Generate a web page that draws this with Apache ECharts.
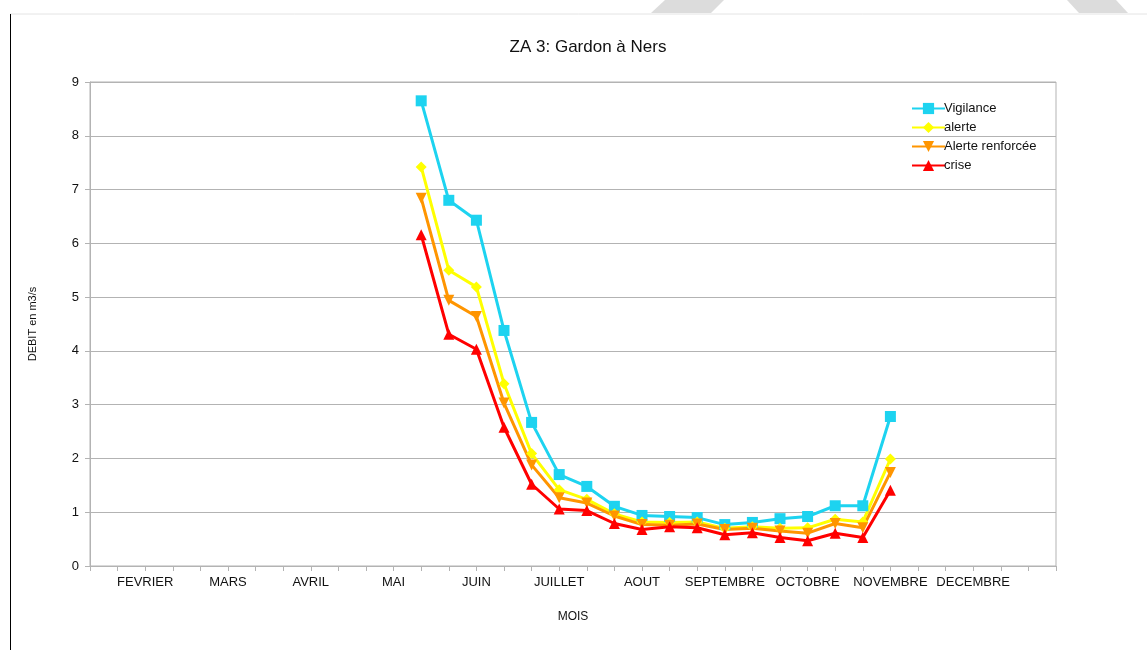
<!DOCTYPE html>
<html>
<head>
<meta charset="utf-8">
<script src="https://cdn.jsdelivr.net/npm/echarts@6/dist/echarts.min.js"></script>
<style>
  html, body { margin: 0; padding: 0; background: #fff; }
  #chart { width: 1147px; height: 650px; }
</style>
</head>
<body>
<div id="chart"></div>
<script>
// mois affichés (une étiquette au milieu de chaque mois, 3 décades par mois)
var MONTHS = ['FEVRIER', 'MARS', 'AVRIL', 'MAI', 'JUIN', 'JUILLET', 'AOUT',
  'SEPTEMBRE', 'OCTOBRE', 'NOVEMBRE', 'DECEMBRE'];
// première décade avec des données (fin mai)
var FIRST_INDEX = 12;

var vigilance = [8.65, 6.80, 6.43, 4.38, 2.67, 1.70, 1.48, 1.11, 0.94, 0.92, 0.90, 0.77, 0.81, 0.88, 0.92, 1.12, 1.12, 2.78];
var alerte = [7.42, 5.50, 5.19, 3.39, 2.09, 1.42, 1.24, 0.97, 0.82, 0.81, 0.82, 0.70, 0.73, 0.70, 0.71, 0.87, 0.82, 1.99];
var alerteRenforcee = [6.84, 4.94, 4.64, 3.03, 1.88, 1.27, 1.17, 0.93, 0.77, 0.76, 0.78, 0.68, 0.70, 0.65, 0.61, 0.79, 0.71, 1.74];
var crise = [6.16, 4.31, 4.03, 2.58, 1.52, 1.06, 1.03, 0.79, 0.68, 0.73, 0.71, 0.58, 0.62, 0.53, 0.47, 0.61, 0.53, 1.41];

// axe des décades
var categories = ['JANVIER-3'];
MONTHS.forEach(function (m) {
  categories.push(m + '-1', m + '-2', m + '-3');
});
categories.push('FIN-1', 'FIN-2');

function pad(values) {
  var out = [];
  for (var i = 0; i < categories.length; i++) {
    var j = i - FIRST_INDEX;
    out.push(j >= 0 && j < values.length ? values[j] : '-');
  }
  return out;
}

var font = 'Liberation Sans, Arial, sans-serif';
var gridColor = '#b3b3b3';

function serie(name, values, color, symbol, size, rotate) {
  return {
    name: name,
    type: 'line',
    data: pad(values),
    symbol: symbol,
    symbolSize: size,
    symbolRotate: rotate || 0,
    showAllSymbol: true,
    lineStyle: { color: color, width: 3 },
    itemStyle: { color: color },
    emphasis: { disabled: true },
    animation: false
  };
}

var myChart = echarts.init(document.getElementById('chart'));
var option = {
  backgroundColor: '#fff',
  title: {
    text: 'ZA 3: Gardon à Ners',
    left: 583,
    top: 34,
    textAlign: 'center',
    textStyle: { fontFamily: font, fontSize: 17, fontWeight: 'normal', color: '#111' }
  },
  legend: {
    orient: 'vertical',
    left: 906,
    top: 97,
    itemGap: 6,
    itemWidth: 33,
    itemHeight: 14,
    textStyle: { fontFamily: font, fontSize: 13, color: '#111', padding: [0, 0, 0, -6] },
    data: ['Vigilance', 'alerte', 'Alerte renforcée', 'crise']
  },
  grid: {
    left: 90,
    right: 91,
    top: 82,
    bottom: 84,
    show: true,
    borderColor: gridColor,
    borderWidth: 1
  },
  xAxis: {
    type: 'category',
    data: categories,
    boundaryGap: false,
    name: 'MOIS',
    nameLocation: 'middle',
    nameGap: 45,
    nameTextStyle: { fontFamily: font, fontSize: 12, color: '#111' },
    axisLine: { lineStyle: { color: gridColor } },
    axisTick: { show: true, interval: 0, length: 5, lineStyle: { color: gridColor } },
    axisLabel: {
      interval: function (idx) { return idx % 3 === 2 && idx <= 32; },
      formatter: function (v) { return v.split('-')[0]; },
      margin: 10,
      fontFamily: font,
      fontSize: 13,
      color: '#111'
    },
    splitLine: { show: false }
  },
  yAxis: {
    type: 'value',
    min: 0,
    max: 9,
    interval: 1,
    name: 'DEBIT en m3/s',
    nameLocation: 'middle',
    nameGap: 52,
    nameTextStyle: { fontFamily: font, fontSize: 11, color: '#111' },
    axisLine: { show: true, lineStyle: { color: gridColor } },
    axisTick: { show: true, length: 5, lineStyle: { color: gridColor } },
    axisLabel: { margin: 11, fontFamily: font, fontSize: 13, color: '#111' },
    splitLine: { lineStyle: { color: gridColor, width: 1 } }
  },
  graphic: [
    { type: 'line', shape: { x1: 10, y1: 14, x2: 1147, y2: 14 }, style: { stroke: '#e4e4e4', lineWidth: 1 } },
    { type: 'line', shape: { x1: 10.5, y1: 14, x2: 10.5, y2: 650 }, style: { stroke: '#000', lineWidth: 1 } },
    { type: 'polygon', shape: { points: [[665, 0], [724, 0], [711, 13], [651, 13]] }, style: { fill: '#dcdcdc' } },
    { type: 'polygon', shape: { points: [[1067, 0], [1116, 0], [1128, 13], [1079, 13]] }, style: { fill: '#dcdcdc' } }
  ],
  series: [
    serie('Vigilance', vigilance, '#1dd3f0', 'rect', 11),
    serie('alerte', alerte, '#ffff00', 'diamond', 11),
    serie('Alerte renforcée', alerteRenforcee, '#ff9500', 'triangle', 11, 180),
    serie('crise', crise, '#ff0000', 'triangle', 11)
  ]
};
myChart.setOption(option);
</script>
</body>
</html>
